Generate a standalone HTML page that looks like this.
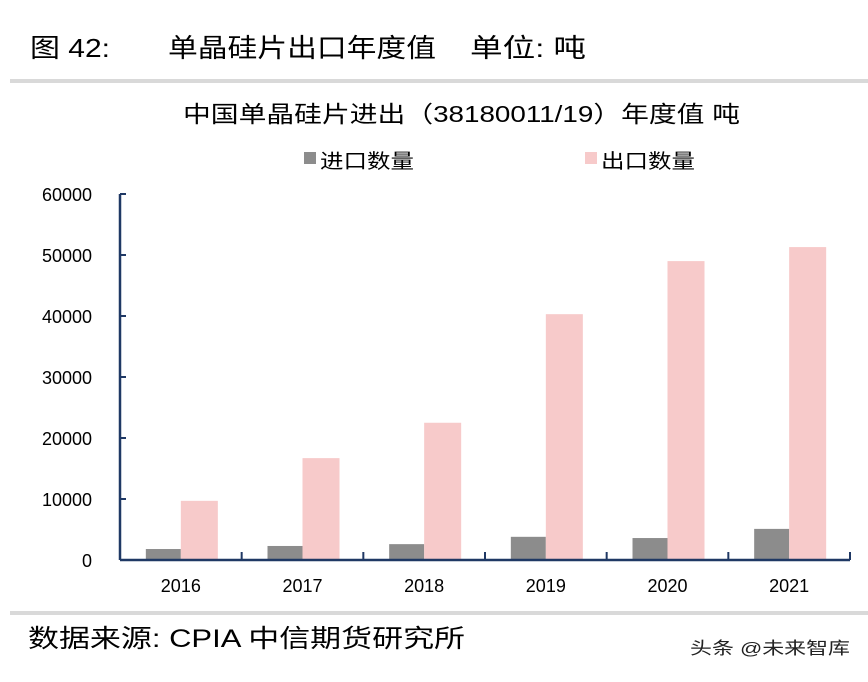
<!DOCTYPE html>
<html><head><meta charset="utf-8"><style>
body{margin:0;background:#fff;}
svg text{font-family:"Liberation Sans","Noto Sans CJK SC",sans-serif;}
</style></head><body>
<svg width="868" height="677" xmlns="http://www.w3.org/2000/svg">
<g font-size="26" fill="#000">
<text x="30" y="57" textLength="80" lengthAdjust="spacingAndGlyphs">图 42:</text>
<text x="168" y="57" textLength="268" lengthAdjust="spacingAndGlyphs">单晶硅片出口年度值</text>
<text x="470" y="57" textLength="116" lengthAdjust="spacingAndGlyphs">单位: 吨</text>
</g>
<rect x="10" y="79" width="858" height="4" fill="#d9d9d9"/>
<text x="183" y="122" font-size="23" textLength="557" lengthAdjust="spacingAndGlyphs" fill="#000">中国单晶硅片进出（38180011/19）年度值 吨</text>
<g>
<rect x="304" y="152" width="12" height="12" fill="#8c8c8c"/>
<text x="320" y="168" font-size="20" textLength="94" lengthAdjust="spacingAndGlyphs">进口数量</text>
<rect x="585" y="152" width="12" height="12" fill="#f7caca"/>
<text x="601" y="168" font-size="20" textLength="94" lengthAdjust="spacingAndGlyphs">出口数量</text>
</g>
<g id="plot"></g>
<rect x="10" y="611" width="858" height="4" fill="#d9d9d9"/>
<text x="28" y="647" font-size="25" textLength="437" lengthAdjust="spacingAndGlyphs" fill="#000">数据来源: CPIA 中信期货研究所</text>
<text x="690" y="654" font-size="17" textLength="160" lengthAdjust="spacingAndGlyphs" fill="#222">头条 @未来智库</text>
</svg>
<script>
const categories=["2016","2017","2018","2019","2020","2021"];
const importVals=[1800,2300,2600,3800,3600,5100];
const exportVals=[9700,16700,22500,40300,49000,51300];
const yTicks=[0,10000,20000,30000,40000,50000,60000];
const NS="http://www.w3.org/2000/svg";
const g=document.getElementById('plot');
const x0=120,x1=850,yb=560,yt=194,ymax=60000;
const band=(x1-x0)/categories.length;
const y=v=>yb-(v/ymax)*(yb-yt);
function mk(t,a){const e=document.createElementNS(NS,t);for(const k in a)e.setAttribute(k,a[k]);g.appendChild(e);return e;}
yTicks.forEach(v=>{
 const t=mk('text',{x:92,y:y(v)+7,'font-size':18,'text-anchor':'end',fill:'#000'});t.textContent=v;
 
 
 const l=mk('line',{x1:x0,x2:x0+6,y1:y(v),y2:y(v),stroke:'#1f3864','stroke-width':2});
 
 
});
categories.forEach((c,i)=>{
 const cx=x0+band*(i+0.5);
 const b1=mk('rect',{x:cx-35,y:y(importVals[i]),width:35,height:yb-y(importVals[i]),fill:'#8c8c8c'});
 
 
 const b2=mk('rect',{x:cx,y:y(exportVals[i]),width:37,height:yb-y(exportVals[i]),fill:'#f7caca'});
 
 
 const t=mk('text',{x:cx,y:592,'font-size':18,'text-anchor':'middle',fill:'#000'});t.textContent=c;
 
 
});
for(let i=0;i<=categories.length;i++){
 const xx=x0+band*i;
 const l=mk('line',{x1:xx,x2:xx,y1:yb,y2:yb-8,stroke:'#1f3864','stroke-width':2});
 
 
}
const ya=mk('line',{x1:x0,x2:x0,y1:yt,y2:yb,stroke:'#1f3864','stroke-width':2.5});


const xa=mk('line',{x1:x0,x2:x1,y1:yb,y2:yb,stroke:'#1f3864','stroke-width':2.5});


</script>
</body></html>
